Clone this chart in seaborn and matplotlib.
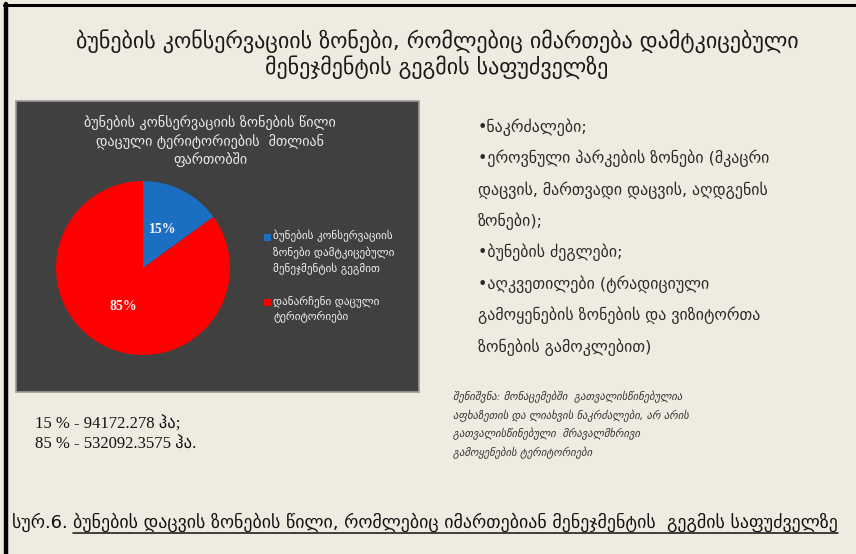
"""
Protected areas slide — share of nature conservation zones managed
under an approved management plan (pie chart + notes).
"""
import matplotlib
matplotlib.use("Agg")
import matplotlib.pyplot as plt
import seaborn as sns
from matplotlib.lines import Line2D
from matplotlib.patches import Rectangle

W, H = 856, 554

# --- data -----------------------------------------------------------------
SHARES = [15, 85]
LEGEND_LABELS = [
    "ბუნების კონსერვაციის\nზონები დამტკიცებული\nმენეჯმენტის გეგმით",
    "დანარჩენი დაცული\nტერიტორიები",
]
SLICE_COLORS = ["#1b6fc2", "#fe0000"]

TITLE_LINES = [
    "ბუნების კონსერვაციის ზონები, რომლებიც იმართება დამტკიცებული",
    "მენეჯმენტის გეგმის საფუძველზე",
]
CHART_TITLE = [
    "ბუნების კონსერვაციის ზონების წილი",
    "დაცული ტერიტორიების  მთლიან",
    "ფართობში",
]
BULLETS = [
    "•ნაკრძალები;",
    "•ეროვნული პარკების ზონები (მკაცრი",
    "დაცვის, მართვადი დაცვის, აღდგენის",
    "ზონები);",
    "•ბუნების ძეგლები;",
    "•აღკვეთილები (ტრადიციული",
    "გამოყენების ზონების და ვიზიტორთა",
    "ზონების გამოკლებით)",
]
AREAS = ["15 % - 94172.278 ჰა;", "85 % - 532092.3575 ჰა."]
NOTE = [
    "შენიშვნა: მონაცემებში  გათვალისწინებულია",
    "აფხაზეთის და ლიახვის ნაკრძალები, არ არის",
    "გათვალისწინებული  მრავალმხრივი",
    "გამოყენების ტერიტორიები",
]
CAPTION_HEAD = "სურ.6. "
CAPTION_BODY = "ბუნების დაცვის ზონების წილი, რომლებიც იმართებიან მენეჯმენტის  გეგმის საფუძველზე"

sns.set_theme(style="white")
plt.rcParams["font.family"] = ["DejaVu Sans"]

BG = "#eeebe1"
BOX = "#404040"


def fx(x):
    return x / W


def fy(y):
    return 1 - y / H


fig = plt.figure(figsize=(W / 100, H / 100), dpi=100, facecolor=BG)

# slide frame (left + top)
fig.add_artist(Line2D([fx(5.5), fx(5.5)], [fy(4), 0], color="black", lw=3.2))
fig.add_artist(Line2D([fx(4), 1], [fy(5), fy(5)], color="black", lw=2.2))

# slide title
for i, line in enumerate(TITLE_LINES):
    fig.text(fx(437), fy(41 + 26 * i), line, ha="center", va="center",
             fontsize=15.8, color="#1a1a1a")

# dark chart panel (behind the pie axes)
fig.add_artist(Rectangle((fx(16), fy(392)), fx(419) - fx(16), fy(101) - fy(392),
                         transform=fig.transFigure, facecolor=BOX,
                         edgecolor="#9a9a9a", lw=1.2, zorder=-5))
for i, line in enumerate(CHART_TITLE):
    fig.text(fx(210), fy(123 + 18.5 * i), line, ha="center", va="center",
             fontsize=10.2, color="#ececec")

# pie
cx, cy, r = 143, 268, 87
ax = fig.add_axes([fx(cx - r), fy(cy + r), 2 * r / W, 2 * r / H])
ax.set_zorder(2)
ax.patch.set_alpha(0)
wedges, _, autotexts = ax.pie(
    SHARES, colors=SLICE_COLORS, startangle=90, counterclock=False,
    autopct="%d%%", pctdistance=0.5, radius=1,
    wedgeprops={"linewidth": 0},
    textprops={"color": "#f4f4f4", "fontsize": 10, "fontweight": "bold",
               "family": ["Liberation Serif", "DejaVu Sans"]},
)
ax.set_xlim(-1, 1)
ax.set_ylim(-1, 1)
ax.set_aspect("auto")
ax.axis("off")

# legend: square aligned with the first line of each label, as on the slide
for wedge, label, top in zip(wedges, LEGEND_LABELS, [237, 302]):
    fig.add_artist(Rectangle((fx(264), fy(top + 3.5)), 7 / W, 7 / H,
                             transform=fig.transFigure,
                             facecolor=wedge.get_facecolor(), lw=0, zorder=3))
    fig.text(fx(273), fy(top - 7), label, ha="left", va="top",
             fontsize=8, color="#f0f0f0", linespacing=1.45)

# bullet list
for i, line in enumerate(BULLETS):
    fig.text(fx(478), fy(127 + 31.4 * i), line, ha="left", va="center",
             fontsize=11.4, color="#2a2a2a")

# note (italic)
for i, line in enumerate(NOTE):
    fig.text(fx(453), fy(397 + 18.5 * i), line, ha="left", va="center",
             fontsize=7.7, style="italic", color="#333333")

# areas
for i, line in enumerate(AREAS):
    fig.text(fx(35), fy(425 + 19 * i), line, ha="left", va="center",
             fontsize=12, color="#111111",
             family=["Liberation Serif", "DejaVu Sans"])

# caption with underlined body
head = fig.text(fx(12), fy(522), CAPTION_HEAD, ha="left", va="center",
                fontsize=12.9, color="#111111")
fig.canvas.draw()
hb = head.get_window_extent()
body = fig.text(hb.x1 / W, fy(522), CAPTION_BODY, ha="left", va="center",
                fontsize=12.9, color="#111111")
fig.canvas.draw()
bb = body.get_window_extent()
fig.add_artist(Line2D([bb.x0 / W, bb.x1 / W], [(bb.y0 - 1) / H] * 2,
                      color="#111111", lw=1.1))

fig.savefig("out.png", dpi=100, facecolor=BG)
